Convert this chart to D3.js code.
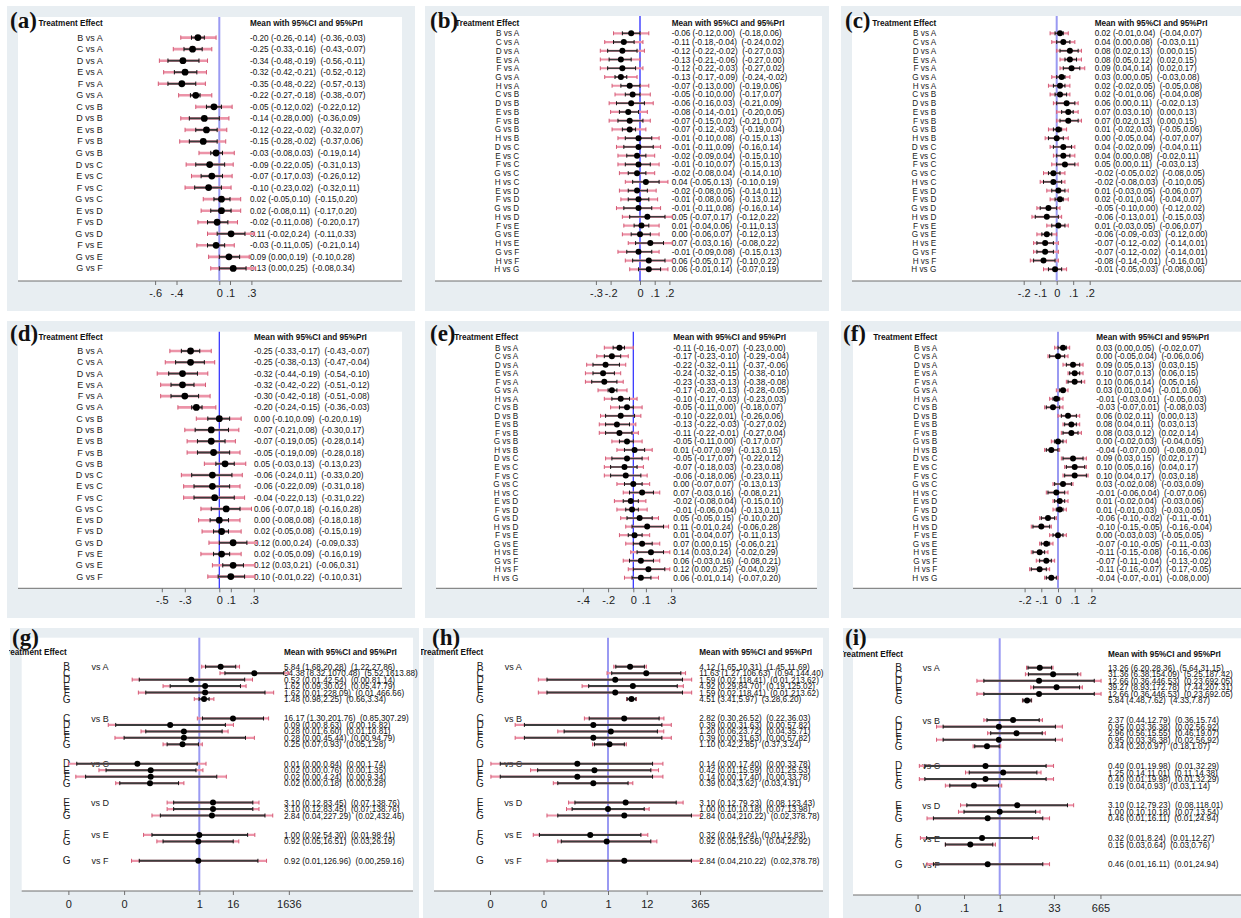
<!DOCTYPE html>
<html><head><meta charset="utf-8">
<script src="https://cdn.jsdelivr.net/npm/d3@7"></script>
<style>
html,body{margin:0;padding:0;background:#fff;}
svg{display:block;}
text{font-family:"Liberation Sans",Arial,Helvetica,sans-serif;}
text.tag{font-family:"Liberation Serif","Times New Roman",Times,serif;}
.pre{white-space:pre;}
</style></head><body>
<svg id="chart" width="1241" height="918"></svg>
<script>
// ---------- comparison labels ----------
const TOP7 = ["B vs A","C vs A","D vs A","E vs A","F vs A","G vs A","C vs B","D vs B","E vs B","F vs B","G vs B","D vs C","E vs C","F vs C","G vs C","E vs D","F vs D","G vs D","F vs E","G vs E","G vs F"];
const TOP8 = ["B vs A","C vs A","D vs A","E vs A","F vs A","G vs A","H vs A","C vs B","D vs B","E vs B","F vs B","G vs B","H vs B","D vs C","E vs C","F vs C","G vs C","H vs C","E vs D","F vs D","G vs D","H vs D","F vs E","G vs E","H vs E","G vs F","H vs F","H vs G"];
const BOTTOM_REFS = ["A","B","C","D","E","F"];
const BOTTOM_TREATS = [["B","C","D","E","F","G"],["C","D","E","F","G"],["D","E","F","G"],["E","F","G"],["F","G"],["G"]];

// ---------- panel (a) ----------
const aMean = [-0.20,-0.25,-0.34,-0.32,-0.35,-0.22,-0.05,-0.14,-0.12,-0.15,-0.03,-0.09,-0.07,-0.10,0.02,0.02,-0.02,0.11,-0.03,0.09,0.13];
const aCiLo = [-0.26,-0.33,-0.48,-0.42,-0.48,-0.27,-0.12,-0.28,-0.22,-0.28,-0.08,-0.22,-0.17,-0.23,-0.05,-0.08,-0.11,-0.02,-0.11,0.00,0.00];
const aCiHi = [-0.14,-0.16,-0.19,-0.21,-0.22,-0.18,0.02,0.00,-0.02,-0.02,0.03,0.05,0.03,0.02,0.10,0.11,0.08,0.24,0.05,0.19,0.25];
const aPrLo = [-0.36,-0.43,-0.56,-0.52,-0.57,-0.38,-0.22,-0.36,-0.32,-0.37,-0.19,-0.31,-0.26,-0.32,-0.15,-0.17,-0.20,-0.11,-0.21,-0.10,-0.08];
const aPrHi = [-0.03,-0.07,-0.11,-0.12,-0.13,-0.07,0.12,0.09,0.07,0.06,0.14,0.13,0.12,0.11,0.20,0.20,0.17,0.33,0.14,0.28,0.34];
const aTicks = [-0.6,-0.4,0,0.1,0.3];
const aTickLabels = ["-.6","-.4","0",".1",".3"];

// ---------- panel (b) ----------
const bMean = [-0.06,-0.11,-0.12,-0.13,-0.12,-0.13,-0.07,-0.05,-0.06,-0.08,-0.07,-0.07,-0.01,-0.01,-0.02,-0.01,-0.02,0.04,-0.02,-0.01,-0.01,0.05,0.01,0.00,0.07,-0.01,0.06,0.06];
const bCiLo = [-0.12,-0.18,-0.22,-0.21,-0.22,-0.17,-0.13,-0.10,-0.16,-0.14,-0.15,-0.12,-0.10,-0.11,-0.09,-0.10,-0.08,-0.05,-0.08,-0.08,-0.11,-0.07,-0.04,-0.06,-0.03,-0.09,-0.05,-0.01];
const bCiHi = [0.00,-0.04,-0.02,-0.06,-0.03,-0.09,0.00,0.00,0.03,-0.01,0.02,-0.03,0.08,0.09,0.04,0.07,0.04,0.13,0.05,0.06,0.08,0.17,0.06,0.07,0.16,0.08,0.17,0.14];
const bPrLo = [-0.18,-0.24,-0.27,-0.27,-0.27,-0.24,-0.19,-0.17,-0.21,-0.20,-0.21,-0.19,-0.15,-0.16,-0.15,-0.15,-0.14,-0.10,-0.14,-0.13,-0.16,-0.12,-0.11,-0.12,-0.08,-0.15,-0.10,-0.07];
const bPrHi = [0.06,0.02,0.03,0.00,0.02,-0.02,0.06,0.07,0.09,0.05,0.07,0.04,0.13,0.14,0.10,0.13,0.10,0.19,0.11,0.12,0.14,0.22,0.13,0.13,0.22,0.13,0.22,0.19];
const bTicks = [-0.3,-0.2,0,0.1,0.2];
const bTickLabels = ["-.3","-.2","0",".1",".2"];

// ---------- panel (c) ----------
const cMean = [0.02,0.04,0.08,0.08,0.09,0.03,0.02,0.02,0.06,0.07,0.07,0.01,0.00,0.04,0.04,0.05,-0.02,-0.02,0.01,0.02,-0.05,-0.06,0.01,-0.06,-0.07,-0.07,-0.08,-0.01];
const cCiLo = [-0.01,0.00,0.02,0.05,0.04,0.00,-0.02,-0.01,0.00,0.03,0.02,-0.02,-0.05,-0.02,0.00,0.00,-0.05,-0.08,-0.03,-0.01,-0.10,-0.13,-0.03,-0.09,-0.12,-0.12,-0.14,-0.05];
const cCiHi = [0.04,0.08,0.13,0.12,0.14,0.05,0.05,0.06,0.11,0.10,0.13,0.03,0.04,0.09,0.08,0.11,0.02,0.03,0.05,0.04,0.00,0.01,0.05,-0.03,-0.02,-0.02,-0.01,0.03];
const cPrLo = [-0.04,-0.03,0.00,0.02,0.02,-0.03,-0.05,-0.04,-0.02,0.00,0.00,-0.05,-0.07,-0.04,-0.02,-0.03,-0.08,-0.10,-0.06,-0.04,-0.12,-0.15,-0.06,-0.12,-0.14,-0.14,-0.16,-0.08];
const cPrHi = [0.07,0.11,0.15,0.15,0.17,0.08,0.08,0.08,0.13,0.13,0.15,0.06,0.07,0.11,0.11,0.13,0.05,0.05,0.07,0.07,0.02,0.03,0.07,0.00,0.01,0.01,0.01,0.06];
const cTicks = [-0.2,-0.1,0,0.1,0.2];
const cTickLabels = ["-.2","-.1","0",".1",".2"];

// ---------- panel (d) ----------
const dMean = [-0.25,-0.25,-0.32,-0.32,-0.30,-0.20,0.00,-0.07,-0.07,-0.05,0.05,-0.06,-0.06,-0.04,0.06,0.00,0.02,0.12,0.02,0.12,0.10];
const dCiLo = [-0.33,-0.38,-0.44,-0.42,-0.42,-0.24,-0.10,-0.21,-0.19,-0.19,-0.03,-0.24,-0.22,-0.22,-0.07,-0.08,-0.05,0.00,-0.05,0.03,-0.01];
const dCiHi = [-0.17,-0.13,-0.19,-0.22,-0.18,-0.15,0.09,0.08,0.05,0.09,0.13,0.11,0.09,0.13,0.18,0.08,0.08,0.24,0.09,0.21,0.22];
const dPrLo = [-0.43,-0.47,-0.54,-0.51,-0.51,-0.36,-0.20,-0.30,-0.28,-0.28,-0.13,-0.33,-0.31,-0.31,-0.16,-0.18,-0.15,-0.09,-0.16,-0.06,-0.10];
const dPrHi = [-0.07,-0.04,-0.10,-0.12,-0.08,-0.03,0.19,0.17,0.14,0.18,0.23,0.20,0.18,0.22,0.28,0.18,0.19,0.33,0.19,0.31,0.31];
const dTicks = [-0.5,-0.3,0,0.1,0.3];
const dTickLabels = ["-.5","-.3","0",".1",".3"];

// ---------- panel (e) ----------
const eMean = [-0.11,-0.17,-0.22,-0.24,-0.23,-0.17,-0.10,-0.05,-0.10,-0.13,-0.11,-0.05,0.01,-0.05,-0.07,-0.06,0.00,0.07,-0.02,-0.01,0.05,0.11,0.01,0.07,0.14,0.06,0.12,0.06];
const eCiLo = [-0.16,-0.23,-0.32,-0.32,-0.33,-0.20,-0.17,-0.11,-0.22,-0.22,-0.22,-0.11,-0.07,-0.17,-0.18,-0.18,-0.07,-0.03,-0.08,-0.06,-0.05,-0.01,-0.04,0.00,0.03,-0.03,0.00,-0.01];
const eCiHi = [-0.07,-0.10,-0.11,-0.15,-0.13,-0.13,-0.03,0.00,0.01,-0.03,-0.01,0.00,0.09,0.07,0.03,0.06,0.07,0.16,0.04,0.04,0.15,0.24,0.07,0.15,0.24,0.16,0.25,0.14];
const ePrLo = [-0.23,-0.29,-0.37,-0.38,-0.38,-0.28,-0.23,-0.18,-0.26,-0.27,-0.27,-0.17,-0.13,-0.22,-0.23,-0.23,-0.13,-0.08,-0.15,-0.13,-0.10,-0.06,-0.11,-0.06,-0.02,-0.08,-0.04,-0.07];
const ePrHi = [0.00,-0.04,-0.06,-0.10,-0.08,-0.05,0.03,0.07,0.06,0.02,0.04,0.07,0.15,0.12,0.08,0.11,0.13,0.21,0.10,0.11,0.20,0.28,0.13,0.21,0.29,0.21,0.29,0.20];
const eTicks = [-0.4,-0.2,0,0.1,0.3];
const eTickLabels = ["-.4","-.2","0",".1",".3"];

// ---------- panel (f) ----------
const fMean = [0.03,0.00,0.09,0.10,0.10,0.03,-0.01,-0.03,0.06,0.08,0.08,0.00,-0.04,0.09,0.10,0.10,0.03,-0.01,0.01,0.01,-0.06,-0.10,0.00,-0.07,-0.11,-0.07,-0.11,-0.04];
const fCiLo = [0.00,-0.05,0.05,0.07,0.06,0.01,-0.03,-0.07,0.02,0.04,0.03,-0.02,-0.07,0.03,0.05,0.04,-0.02,-0.06,-0.02,-0.01,-0.10,-0.15,-0.03,-0.10,-0.15,-0.11,-0.16,-0.07];
const fCiHi = [0.05,0.04,0.13,0.13,0.14,0.04,0.01,0.01,0.11,0.11,0.12,0.03,0.00,0.15,0.16,0.17,0.08,0.04,0.04,0.03,-0.02,-0.05,0.03,-0.05,-0.08,-0.04,-0.07,-0.01];
const fPrLo = [-0.02,-0.06,0.03,0.06,0.05,-0.01,-0.05,-0.08,0.00,0.03,0.02,-0.04,-0.08,0.02,0.04,0.03,-0.03,-0.07,-0.03,-0.03,-0.11,-0.16,-0.05,-0.11,-0.16,-0.13,-0.17,-0.08];
const fPrHi = [0.07,0.06,0.15,0.15,0.16,0.06,0.03,0.03,0.13,0.13,0.14,0.05,0.01,0.17,0.17,0.18,0.09,0.06,0.06,0.05,-0.01,-0.04,0.05,-0.03,-0.06,-0.02,-0.05,0.00];
const fTicks = [-0.2,-0.1,0,0.1,0.2];
const fTickLabels = ["-.2","-.1","0",".1",".2"];

// ---------- panel (g) (ratio scale) ----------
const gMean = [5.84,94.38,0.52,1.62,1.62,1.48, 16.17,0.09,0.28,0.28,0.25, 0.006,0.018,0.018,0.017, 3.10,3.10,2.84, 1.00,0.92, 0.92];
const gCiLo = [1.68,8.32,0.007,0.09,0.012,0.98, 1.30,0.001,0.012,0.002,0.07, 0.00004,0.00045,0.000083,0.0014, 0.12,0.12,0.04, 0.02,0.05, 0.007];
const gCiHi = [20.28,1070.48,42.54,30.02,228.09,2.25, 201.76,8.63,6.60,45.44,0.93, 0.84,0.76,4.24,0.18, 83.45,83.45,227.29, 54.30,16.51, 126.96];
const gPrLo = [1.22,5.52,0.0039,0.05,0.0065,0.66, 0.85,0.00054,0.0081,0.00094,0.05, 0.00002,0.00025,0.000037,0.001, 0.07,0.07,0.02, 0.01,0.03, 0.0037];
const gPrHi = [27.86,1613.88,81.14,47.79,466.66,3.34, 307.29,16.82,10.81,94.79,1.28, 1.74,1.35,9.34,0.28, 138.76,138.76,432.46, 98.41,26.19, 259.16];
const gTicks = [0.00002,0.002,1,16,1636];
const gTickLabels = ["0","0","1","16","1636"];

// ---------- panel (h) ----------
const hMean = [4.12,11.63,1.59,4.92,1.59,4.51, 2.82,0.39,1.20,0.39,1.10, 0.14,0.42,0.14,0.39, 3.10,1.00,2.84, 0.32,0.92, 2.84];
const hCiLo = [1.65,1.27,0.02,0.29,0.02,3.41, 0.30,0.0047,0.06,0.0047,0.42, 0.001,0.011,0.001,0.04, 0.12,0.10,0.04, 0.0123,0.05, 0.04];
const hCiHi = [10.31,106.63,118.41,84.70,118.41,5.97, 26.52,31.63,23.72,31.63,2.85, 17.40,15.59,17.40,3.62, 79.23,10.18,210.22, 8.24,15.56, 210.22];
const hPrLo = [1.45,0.94,0.0115,0.19,0.0115,3.28, 0.22,0.0026,0.04,0.0026,0.37, 0.00055,0.007,0.00055,0.03, 0.08,0.07,0.02, 0.0083,0.04, 0.02];
const hPrHi = [11.69,144.40,213.62,125.02,213.62,6.20, 36.03,57.82,35.71,57.82,3.24, 33.78,25.53,33.78,4.91, 123.43,13.98,378.78, 12.83,22.92, 378.78];
const hTicks = [0.00052,0.016,1,12,365];
const hTickLabels = ["0","0","1","12","365"];

// ---------- panel (i) ----------
const iMean = [13.26,31.36,12.66,39.27,12.66,5.84, 2.37,0.95,2.96,0.95,0.44, 0.40,1.25,0.40,0.19, 3.10,1.00,0.46, 0.32,0.15, 0.46];
const iCiLo = [6.20,6.38,0.36,8.93,0.36,4.48, 0.44,0.026,0.56,0.026,0.20, 0.008,0.14,0.008,0.04, 0.12,0.10,0.0139, 0.009,0.03, 0.0139];
const iCiHi = [28.36,154.09,446.53,172.78,446.53,7.62, 12.79,36.38,15.55,36.38,0.97, 19.98,11.01,19.98,0.93, 79.23,10.18,16.11, 8.24,0.64, 16.11];
const iPrLo = [5.64,5.25,0.23,7.44,0.23,4.33, 0.36,0.017,0.46,0.017,0.18, 0.0056,0.11,0.0056,0.03, 0.08,0.07,0.0092, 0.006,0.03, 0.0092];
const iPrHi = [31.15,187.42,692.05,207.31,692.05,7.87, 15.74,56.92,19.07,56.92,1.07, 32.29,14.38,32.29,1.14, 118.01,13.54,24.94, 12.27,0.76, 24.94];
const iTicks = [0.005,0.1,1,33,665];
const iTickLabels = ["0",".1","1","33","665"];

// ================= drawing =================
const svg = d3.select("#chart");
const defs = svg.append("defs");
const BG = "#e8eef2", PINK = "#ec93a8", PINK_TICK = "#d45a74", CI_COL = "#3c3c3c";
const LIGHT_ZERO = "#9a9af2", DARK_ZERO = "#2a2aff";
const fmt = v => v.toFixed(2);

function makeRows(mean, cl, ch, pl, ph) {
  return mean.map((m, i) => ({i, m, cl: cl[i], ch: ch[i], pl: pl[i], ph: ph[i]}));
}

function drawPanel(cfg) {
  const g = svg.append("g");
  if (cfg.clip) {
    const id = "clip" + cfg.tag.replace(/[()]/g, "");
    defs.append("clipPath").attr("id", id).append("rect")
      .attr("x", cfg.clip[0]).attr("y", cfg.bg[1]).attr("width", cfg.clip[1] - cfg.clip[0]).attr("height", cfg.bg[3] - cfg.bg[1]);
    g.attr("clip-path", `url(#${id})`);
  }
  g.append("rect").attr("x", cfg.bg[0]).attr("y", cfg.bg[1]).attr("width", cfg.bg[2] - cfg.bg[0]).attr("height", cfg.bg[3] - cfg.bg[1]).attr("fill", BG);
  g.append("rect").attr("x", cfg.inner[0]).attr("y", cfg.inner[1]).attr("width", cfg.inner[2] - cfg.inner[0]).attr("height", cfg.inner[3] - cfg.inner[1]).attr("fill", "#fff");

  const x = cfg.log
    ? d3.scaleLog().domain([1, Math.E]).range([cfg.zero, cfg.zero + cfg.ppu])
    : d3.scaleLinear().domain([0, 1]).range([cfg.zero, cfg.zero + cfg.ppu]);

  // axis
  const axisY = cfg.inner[3];
  g.append("line").attr("x1", cfg.inner[0]).attr("x2", cfg.inner[2]).attr("y1", axisY).attr("y2", axisY)
    .attr("stroke", "#6f6f6f").attr("stroke-width", 1);
  const ax = g.append("g").attr("transform", `translate(0,${axisY})`)
    .call(d3.axisBottom(x).tickValues(cfg.ticks).tickFormat((d, k) => cfg.tickLabels[k]).tickSize(4).tickPadding(cfg.tickPad));
  ax.select(".domain").remove();
  ax.selectAll(".tick line").attr("stroke", "#6f6f6f");
  ax.selectAll(".tick text").attr("font-size", 11).attr("fill", "#222");

  // zero line
  g.append("line").attr("x1", x(cfg.log ? 1 : 0)).attr("x2", x(cfg.log ? 1 : 0))
    .attr("y1", cfg.inner[1]).attr("y2", axisY).attr("stroke", cfg.zc).attr("stroke-width", cfg.zw);

  // tag + headers
  g.append("text").attr("class", "tag").attr("x", cfg.tagX).attr("y", cfg.tagY).text(cfg.tag)
    .attr("font-weight", "bold").attr("font-size", 23).attr("fill", "#111");
  g.append("text").attr("x", cfg.teX).attr("y", cfg.headY).attr("text-anchor", "end").text("Treatment Effect")
    .attr("font-weight", "bold").attr("font-size", 8.2).attr("fill", "#111");
  g.append("text").attr("x", cfg.valX).attr("y", cfg.headY).text("Mean with 95%CI and 95%PrI")
    .attr("font-weight", "bold").attr("font-size", 8.2).attr("fill", "#111");

  const rows = cfg.rows;
  const yOf = d => cfg.y0 + d.slot * cfg.step;

  // labels
  if (!cfg.log) {
    g.selectAll("text.lab").data(rows).join("text").attr("class", "lab")
      .attr("x", cfg.teX).attr("y", d => yOf(d) + 3).attr("text-anchor", "end")
      .attr("font-size", cfg.labSize).attr("fill", "#222").text(d => d.label);
  } else {
    g.selectAll("text.let").data(rows).join("text").attr("class", "let")
      .attr("x", cfg.letterX).attr("y", d => yOf(d) + 3.5).attr("text-anchor", "middle")
      .attr("font-size", 10).attr("fill", "#222").text(d => d.treat);
    g.selectAll("text.vs").data(rows.filter(d => d.k === 0)).join("text").attr("class", "vs")
      .attr("x", cfg.vsX).attr("y", d => yOf(d) + 3.5).attr("text-anchor", "middle")
      .attr("font-size", 9).attr("fill", "#222").text(d => "vs " + d.ref);
  }
  // values
  g.selectAll("text.val").data(rows).join("text").attr("class", "val pre")
    .attr("x", cfg.valX).attr("y", d => yOf(d) + 3).attr("font-size", 8.2).attr("fill", "#111")
    .text(d => `${fmt(d.m)} (${fmt(d.cl)},${fmt(d.ch)})  (${fmt(d.pl)},${fmt(d.ph)})`);

  // marks
  const th = cfg.tickH;
  g.selectAll("line.pr").data(rows).join("line").attr("class", "pr")
    .attr("x1", d => x(d.pl)).attr("x2", d => x(d.ph)).attr("y1", yOf).attr("y2", yOf)
    .attr("stroke", PINK).attr("stroke-width", cfg.prW);
  ["pl", "ph"].forEach(key => {
    g.selectAll("line.prt" + key).data(rows).join("line").attr("class", "prt" + key)
      .attr("x1", d => x(d[key])).attr("x2", d => x(d[key])).attr("y1", d => yOf(d) - th).attr("y2", d => yOf(d) + th)
      .attr("stroke", PINK_TICK).attr("stroke-width", 1);
  });
  g.selectAll("line.ci").data(rows).join("line").attr("class", "ci")
    .attr("x1", d => x(d.cl)).attr("x2", d => x(d.ch)).attr("y1", yOf).attr("y2", yOf)
    .attr("stroke", CI_COL).attr("stroke-width", cfg.ciW);
  ["cl", "ch"].forEach(key => {
    g.selectAll("line.cit" + key).data(rows).join("line").attr("class", "cit" + key)
      .attr("x1", d => x(d[key])).attr("x2", d => x(d[key])).attr("y1", d => yOf(d) - th).attr("y2", d => yOf(d) + th)
      .attr("stroke", "#111").attr("stroke-width", 1);
  });
  g.selectAll("circle.pt").data(rows).join("circle").attr("class", "pt")
    .attr("cx", d => x(d.m)).attr("cy", yOf).attr("r", cfg.r).attr("fill", "#000");
}

function topRows(labels, mean, cl, ch, pl, ph) {
  return makeRows(mean, cl, ch, pl, ph).map((d, i) => Object.assign(d, {slot: i, label: labels[i]}));
}
function bottomRows(mean, cl, ch, pl, ph) {
  const base = makeRows(mean, cl, ch, pl, ph);
  const out = [];
  let start = 0, idx = 0;
  BOTTOM_REFS.forEach((ref, gi) => {
    BOTTOM_TREATS[gi].forEach((t, k) => {
      out.push(Object.assign(base[idx++], {slot: start + k, treat: t, ref, k}));
    });
    start += BOTTOM_TREATS[gi].length + 2;
  });
  return out;
}

const topStyleBig = {labSize: 9, prW: 2.6, ciW: 1.8, r: 3.4, tickH: 2.2, tickPad: 4};
const topStyleSmall = {labSize: 8.2, prW: 2.2, ciW: 1.5, r: 3.0, tickH: 2, tickPad: 4};
const botStyle = {prW: 2.2, ciW: 2, r: 3.0, tickH: 2, tickPad: 5, log: true};

const panels = [
  Object.assign({tag: "(a)", bg: [7, 6, 415, 311], inner: [18, 17, 402, 281], zero: 219.3, ppu: 107, y0: 37.6, step: 11.54,
    teX: 102.7, valX: 250, headY: 26, tagX: 10, tagY: 27.5, ticks: aTicks, tickLabels: aTickLabels, zc: LIGHT_ZERO, zw: 2,
    rows: topRows(TOP7, aMean, aCiLo, aCiHi, aPrLo, aPrHi)}, topStyleBig),
  Object.assign({tag: "(b)", bg: [425, 6, 829, 311], inner: [435, 16, 822, 281], zero: 640, ppu: 147, y0: 33.3, step: 8.74,
    teX: 519.3, valX: 671.7, headY: 26, tagX: 430, tagY: 27.5, ticks: bTicks, tickLabels: bTickLabels, zc: DARK_ZERO, zw: 1.3,
    rows: topRows(TOP8, bMean, bCiLo, bCiHi, bPrLo, bPrHi)}, topStyleSmall),
  Object.assign({tag: "(c)", bg: [841, 6, 1241, 311], inner: [852, 16, 1241, 281], zero: 1056.7, ppu: 165, y0: 33.3, step: 8.74,
    teX: 936.3, valX: 1094.7, headY: 26, tagX: 845, tagY: 27.5, ticks: cTicks, tickLabels: cTickLabels, zc: LIGHT_ZERO, zw: 2,
    rows: topRows(TOP8, cMean, cCiLo, cCiHi, cPrLo, cPrHi)}, topStyleSmall),
  Object.assign({tag: "(d)", bg: [7, 321, 415, 618], inner: [18, 331.7, 402, 588.3], zero: 219.3, ppu: 115, y0: 351, step: 11.28,
    teX: 102.7, valX: 254, headY: 340, tagX: 10, tagY: 340.5, ticks: dTicks, tickLabels: dTickLabels, zc: DARK_ZERO, zw: 1.2,
    rows: topRows(TOP7, dMean, dCiLo, dCiHi, dPrLo, dPrHi)}, topStyleBig),
  Object.assign({tag: "(e)", bg: [425, 321, 829, 618], inner: [436, 331.7, 817, 588.3], zero: 633.3, ppu: 126, y0: 347.7, step: 8.52,
    teX: 518.3, valX: 673.3, headY: 340, tagX: 430, tagY: 340.5, ticks: eTicks, tickLabels: eTickLabels, zc: DARK_ZERO, zw: 1.2,
    rows: topRows(TOP8, eMean, eCiLo, eCiHi, ePrLo, ePrHi)}, topStyleSmall),
  Object.assign({tag: "(f)", bg: [841, 321, 1241, 618], inner: [853, 331.7, 1241, 588.3], zero: 1058, ppu: 167, y0: 347.7, step: 8.52,
    teX: 937.3, valX: 1096.3, headY: 340, tagX: 843, tagY: 340.5, ticks: fTicks, tickLabels: fTickLabels, zc: LIGHT_ZERO, zw: 2,
    rows: topRows(TOP8, fMean, fCiLo, fCiHi, fPrLo, fPrHi)}, topStyleSmall),
  Object.assign({tag: "(g)", bg: [10, 628, 419, 918], inner: [21.7, 637.7, 413, 891], zero: 199.3, ppu: 12.1, y0: 666.7, step: 6.47,
    teX: 66.7, letterX: 66.7, vsX: 100, valX: 284, headY: 655, tagX: 12, tagY: 645, ticks: gTicks, tickLabels: gTickLabels,
    zc: LIGHT_ZERO, zw: 2, clip: [9, 419], rows: bottomRows(gMean, gCiLo, gCiHi, gPrLo, gPrHi)}, botStyle),
  Object.assign({tag: "(h)", bg: [423, 628, 829, 918], inner: [434, 637.7, 823, 891], zero: 608, ppu: 15.6, y0: 666.7, step: 6.47,
    teX: 483.3, letterX: 480, vsX: 513.3, valX: 699.3, headY: 655, tagX: 432, tagY: 645, ticks: hTicks, tickLabels: hTickLabels,
    zc: LIGHT_ZERO, zw: 2, clip: [421, 836], rows: bottomRows(hMean, hCiLo, hCiHi, hPrLo, hPrHi)}, botStyle),
  Object.assign({tag: "(i)", bg: [843, 628, 1241, 918], inner: [853, 638.3, 1241, 895], zero: 999.7, ppu: 15.5, y0: 667.7, step: 6.55,
    teX: 903, letterX: 898.7, vsX: 931.3, valX: 1108, headY: 657, tagX: 845, tagY: 645, ticks: iTicks, tickLabels: iTickLabels,
    zc: LIGHT_ZERO, zw: 2, clip: [843, 1241], rows: bottomRows(iMean, iCiLo, iCiHi, iPrLo, iPrHi)}, botStyle)
];
panels.forEach(drawPanel);
</script>
</body></html>
